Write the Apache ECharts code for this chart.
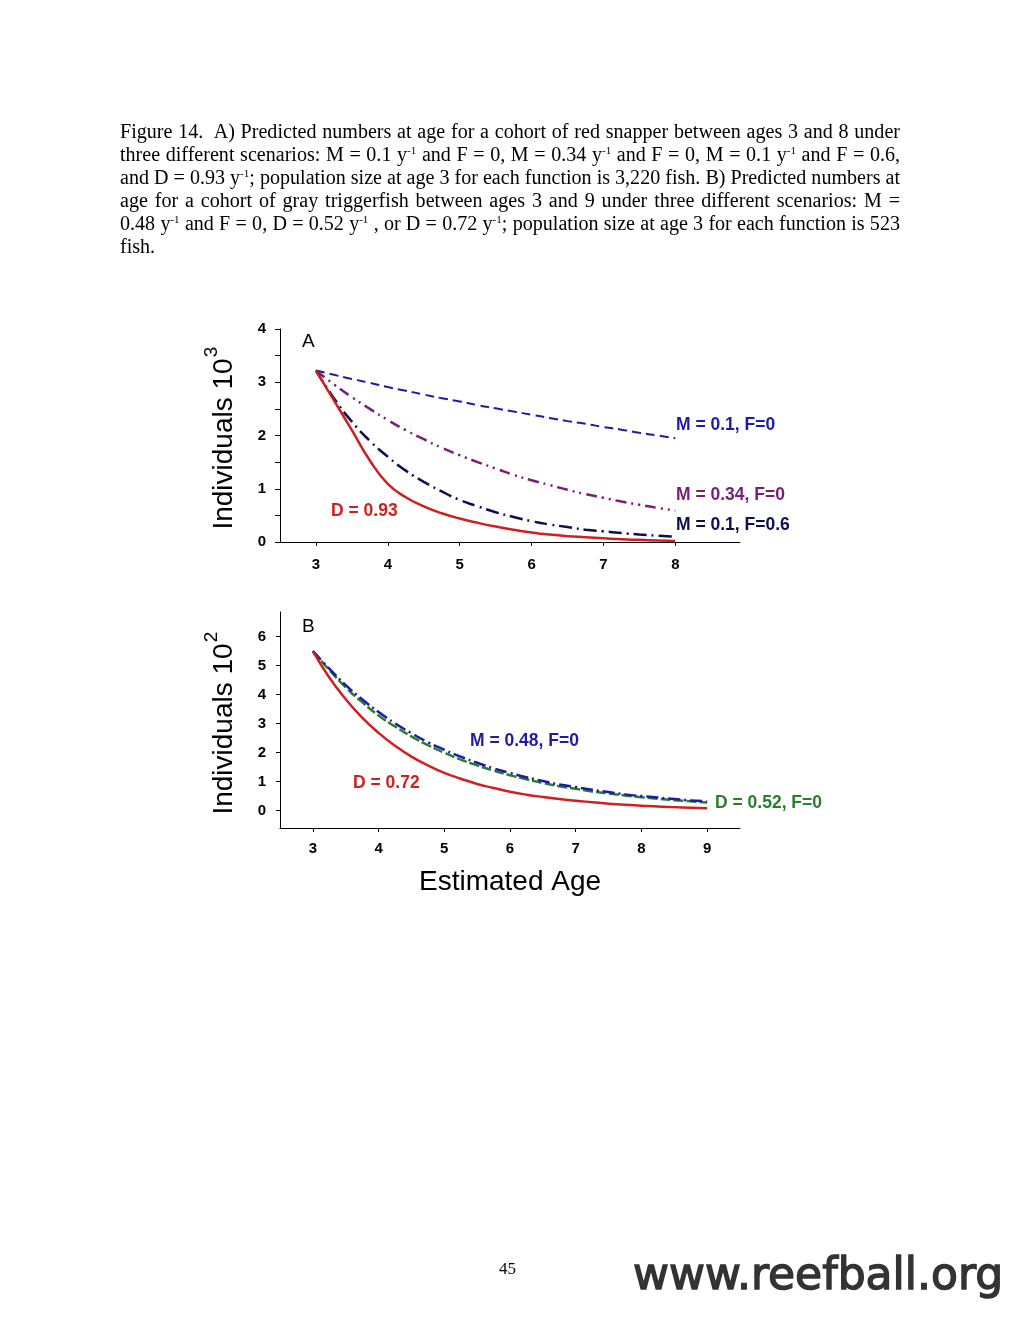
<!DOCTYPE html>
<html>
<head>
<meta charset="utf-8">
<script src="https://cdn.jsdelivr.net/npm/echarts@6/dist/echarts.min.js"></script>
<style>
  html, body { margin: 0; padding: 0; background: #fff; }
  #page { position: relative; width: 1020px; height: 1320px; overflow: hidden; background: #fff; }
  #chart { position: absolute; left: 0; top: 0; width: 1020px; height: 1320px; }
  #cap { position: absolute; left: 120px; top: 120px; font-family: "Liberation Serif", "Times New Roman", serif; font-size: 20px; color: #000; transform-origin: 0 0; z-index: 2; }
  #cap .ln { height: 23px; line-height: 23px; white-space: nowrap; }
  #cap sup { font-size: 11px; vertical-align: 7px; line-height: 0; }
  #pg { position: absolute; left: 499px; top: 1259px; font-family: "Liberation Serif", serif; font-size: 17px; color: #000; z-index: 2; }
  #site { position: absolute; left: 633px; top: 1248px; font-family: "DejaVu Sans", sans-serif; font-size: 44px; color: #333; -webkit-text-stroke: 1.4px #333; z-index: 2; }
</style>
</head>
<body>
<div id="page">
  <div id="chart"></div>
  <div id="cap">
    <div class="ln">Figure 14.&nbsp; A) Predicted numbers at age for a cohort of red snapper between ages 3 and 8 under</div>
    <div class="ln">three different scenarios: M = 0.1 y<sup>-1</sup> and F = 0, M = 0.34 y<sup>-1</sup> and F = 0, M = 0.1 y<sup>-1</sup> and F = 0.6,</div>
    <div class="ln">and D = 0.93 y<sup>-1</sup>; population size at age 3 for each function is 3,220 fish. B) Predicted numbers at</div>
    <div class="ln">age for a cohort of gray triggerfish between ages 3 and 9 under three different scenarios: M =</div>
    <div class="ln">0.48 y<sup>-1</sup> and F = 0, D = 0.52 y<sup>-1</sup> , or D = 0.72 y<sup>-1</sup>; population size at age 3 for each function is 523</div>
    <div class="ln last">fish.</div>
  </div>
  <div id="pg">45</div>
  <div id="site">www.reefball.org</div>
</div>
<script>
// ---- Data ----
const agesA = [3, 3.25, 3.5, 3.75, 4, 4.25, 4.5, 4.75, 5, 5.25, 5.5, 5.75, 6, 6.25, 6.5, 6.75, 7, 7.25, 7.5, 7.75, 8];
const aM010F0  = [3.22, 3.14, 3.06, 2.99, 2.91, 2.84, 2.77, 2.70, 2.64, 2.57, 2.51, 2.45, 2.39, 2.33, 2.27, 2.22, 2.16, 2.11, 2.05, 2.00, 1.95];
const aM034F0  = [3.22, 2.96, 2.72, 2.50, 2.29, 2.10, 1.93, 1.77, 1.63, 1.50, 1.38, 1.26, 1.16, 1.07, 0.98, 0.90, 0.83, 0.76, 0.70, 0.64, 0.59];
const aM010F06 = [3.22, 2.70, 2.26, 1.90, 1.60, 1.34, 1.13, 0.95, 0.79, 0.67, 0.56, 0.47, 0.39, 0.33, 0.28, 0.23, 0.20, 0.17, 0.14, 0.12, 0.10];
const aD093    = [3.22, 2.66, 2.10, 1.53, 1.09, 0.84, 0.67, 0.54, 0.44, 0.36, 0.29, 0.23, 0.18, 0.14, 0.11, 0.09, 0.07, 0.05, 0.04, 0.03, 0.02];

const agesB = [3, 3.25, 3.5, 3.75, 4, 4.25, 4.5, 4.75, 5, 5.25, 5.5, 5.75, 6, 6.25, 6.5, 6.75, 7, 7.25, 7.5, 7.75, 8, 8.25, 8.5, 8.75, 9];
const bM048F0 = [5.50, 4.90, 4.33, 3.84, 3.40, 3.01, 2.67, 2.36, 2.10, 1.86, 1.65, 1.46, 1.30, 1.15, 1.02, 0.90, 0.81, 0.72, 0.64, 0.56, 0.50, 0.45, 0.40, 0.35, 0.32];
const bD052F0 = [5.50, 4.85, 4.25, 3.74, 3.28, 2.90, 2.56, 2.26, 2.00, 1.76, 1.56, 1.38, 1.22, 1.08, 0.95, 0.84, 0.75, 0.66, 0.59, 0.52, 0.46, 0.41, 0.36, 0.32, 0.28];
const bD072   = [5.50, 4.59, 3.84, 3.21, 2.68, 2.24, 1.86, 1.56, 1.30, 1.10, 0.92, 0.78, 0.65, 0.55, 0.47, 0.40, 0.34, 0.29, 0.24, 0.20, 0.17, 0.14, 0.12, 0.10, 0.08];

const xTicksA = [3, 4, 5, 6, 7, 8];
const yTicksA = [0, 1, 2, 3, 4];
const xTicksB = [3, 4, 5, 6, 7, 8, 9];
const yTicksB = [0, 1, 2, 3, 4, 5, 6];

const labelsA = ['M = 0.1, F=0', 'M = 0.34, F=0', 'M = 0.1, F=0.6', 'D = 0.93'];
const labelsB = ['M = 0.48, F=0', 'D = 0.52, F=0', 'D = 0.72'];

// ---- Caption fitting ----
(function () {
  const cap = document.getElementById('cap');
  const lines = cap.querySelectorAll('.ln');
  let maxW = 0;
  lines.forEach(l => { l.style.display = 'inline-block'; });
  lines.forEach(l => { maxW = Math.max(maxW, l.getBoundingClientRect().width); });
  lines.forEach(l => {
    l.style.display = 'block';
    l.style.whiteSpace = 'normal';
    l.style.textAlign = 'justify';
    if (!l.classList.contains('last')) l.style.textAlignLast = 'justify';
  });
  cap.style.width = Math.ceil(maxW) + 'px';
  cap.style.transform = 'scaleX(' + (780 / Math.ceil(maxW)) + ')';
})();

const pair = (xs, ys) => xs.map((x, i) => [x, ys[i]]);

const C = {
  blue: '#1c1ca8', purple: '#7a1c78', navy: '#0d0d55', red: '#d01f1f', green: '#2a7d2a'
};
const tickFont = { color: '#000', fontFamily: 'Liberation Sans, Arial, sans-serif', fontWeight: 'bold', fontSize: 15 };
const lblFont = 'bold 17.5px "Liberation Sans", Arial, sans-serif';

function line(name, xi, xs, ys, color, type, width) {
  return {
    name, type: 'line', xAxisIndex: xi, yAxisIndex: xi,
    data: pair(xs, ys), showSymbol: false, symbol: 'none',
    smooth: 0.5,
    lineStyle: { color, width, type }, z: 3
  };
}

const chart = echarts.init(document.getElementById('chart'), null, { renderer: 'canvas' });
const axisLine = { show: true, onZero: false, lineStyle: { color: '#000', width: 1 } };

chart.setOption({
  animation: false,
  backgroundColor: 'transparent',
  grid: [
    { left: 280, top: 329, width: 460, height: 213 },
    { left: 280, top: 612, width: 460, height: 216 }
  ],
  xAxis: [
    { type: 'value', gridIndex: 0, min: 2.5, max: 8.9, axisLine,
      axisTick: { show: true, length: 4, customValues: xTicksA, lineStyle: { color: '#000' } },
      axisLabel: { ...tickFont, margin: 15, customValues: xTicksA },
      splitLine: { show: false } },
    { type: 'value', gridIndex: 1, min: 2.5, max: 9.5, axisLine,
      axisTick: { show: true, length: 4, customValues: xTicksB, lineStyle: { color: '#000' } },
      axisLabel: { ...tickFont, margin: 13, customValues: xTicksB },
      splitLine: { show: false } }
  ],
  yAxis: [
    { type: 'value', gridIndex: 0, min: 0, max: 4, interval: 1, axisLine,
      axisTick: { show: true, length: 5, lineStyle: { color: '#000' } },
      minorTick: { show: true, splitNumber: 2, length: 5, lineStyle: { color: '#000' } },
      axisLabel: { ...tickFont, margin: 14, customValues: yTicksA },
      splitLine: { show: false } },
    { type: 'value', gridIndex: 1, min: -0.6, max: 6.85, axisLine,
      axisTick: { show: true, length: 4, customValues: yTicksB, lineStyle: { color: '#000' } },
      axisLabel: { ...tickFont, margin: 14, customValues: yTicksB },
      splitLine: { show: false } }
  ],
  series: [
    line(labelsA[0], 0, agesA, aM010F0, C.blue, [9, 5], 2),
    line(labelsA[1], 0, agesA, aM034F0, C.purple, [11, 5, 2, 5, 2, 5], 2.5),
    line(labelsA[2], 0, agesA, aM010F06, C.navy, [13, 5, 2, 5], 2.5),
    line(labelsA[3], 0, agesA, aD093, C.red, 'solid', 2.5),
    line(labelsB[1], 1, agesB, bD052F0, C.green, [10, 3], 2.5),
    line(labelsB[0], 1, agesB, bM048F0, C.blue, [12, 4, 2, 4], 2.5),
    line(labelsB[2], 1, agesB, bD072, C.red, 'solid', 2.5)
  ],
  graphic: [
    { type: 'text', x: 302, y: 342, style: { text: 'A', font: '19px "Liberation Sans", Arial, sans-serif', fill: '#000', verticalAlign: 'middle' } },
    { type: 'text', x: 302, y: 627, style: { text: 'B', font: '19px "Liberation Sans", Arial, sans-serif', fill: '#000', verticalAlign: 'middle' } },
    { type: 'text', x: 676, y: 425, style: { text: labelsA[0], font: lblFont, fill: C.blue, verticalAlign: 'middle' } },
    { type: 'text', x: 676, y: 495, style: { text: labelsA[1], font: lblFont, fill: C.purple, verticalAlign: 'middle' } },
    { type: 'text', x: 676, y: 525, style: { text: labelsA[2], font: lblFont, fill: C.navy, verticalAlign: 'middle' } },
    { type: 'text', x: 331, y: 511, style: { text: labelsA[3], font: lblFont, fill: C.red, verticalAlign: 'middle' } },
    { type: 'text', x: 470, y: 741, style: { text: labelsB[0], font: lblFont, fill: C.blue, verticalAlign: 'middle' } },
    { type: 'text', x: 715, y: 803, style: { text: labelsB[1], font: lblFont, fill: C.green, verticalAlign: 'middle' } },
    { type: 'text', x: 353, y: 783, style: { text: labelsB[2], font: lblFont, fill: C.red, verticalAlign: 'middle' } },
    // y-axis titles
    { type: 'text', x: 224, y: 444, rotation: Math.PI / 2, style: { text: 'Individuals 10', font: '28px "Liberation Sans", Arial, sans-serif', fill: '#000', align: 'center', verticalAlign: 'middle' } },
    { type: 'text', x: 212, y: 352, rotation: Math.PI / 2, style: { text: '3', font: '19px "Liberation Sans", Arial, sans-serif', fill: '#000', align: 'center', verticalAlign: 'middle' } },
    { type: 'text', x: 224, y: 729, rotation: Math.PI / 2, style: { text: 'Individuals 10', font: '28px "Liberation Sans", Arial, sans-serif', fill: '#000', align: 'center', verticalAlign: 'middle' } },
    { type: 'text', x: 212, y: 637, rotation: Math.PI / 2, style: { text: '2', font: '19px "Liberation Sans", Arial, sans-serif', fill: '#000', align: 'center', verticalAlign: 'middle' } },
    { type: 'text', x: 510, y: 882, style: { text: 'Estimated Age', font: '28px "Liberation Sans", Arial, sans-serif', fill: '#000', align: 'center', verticalAlign: 'middle' } }
  ]
});
</script>
</body>
</html>
